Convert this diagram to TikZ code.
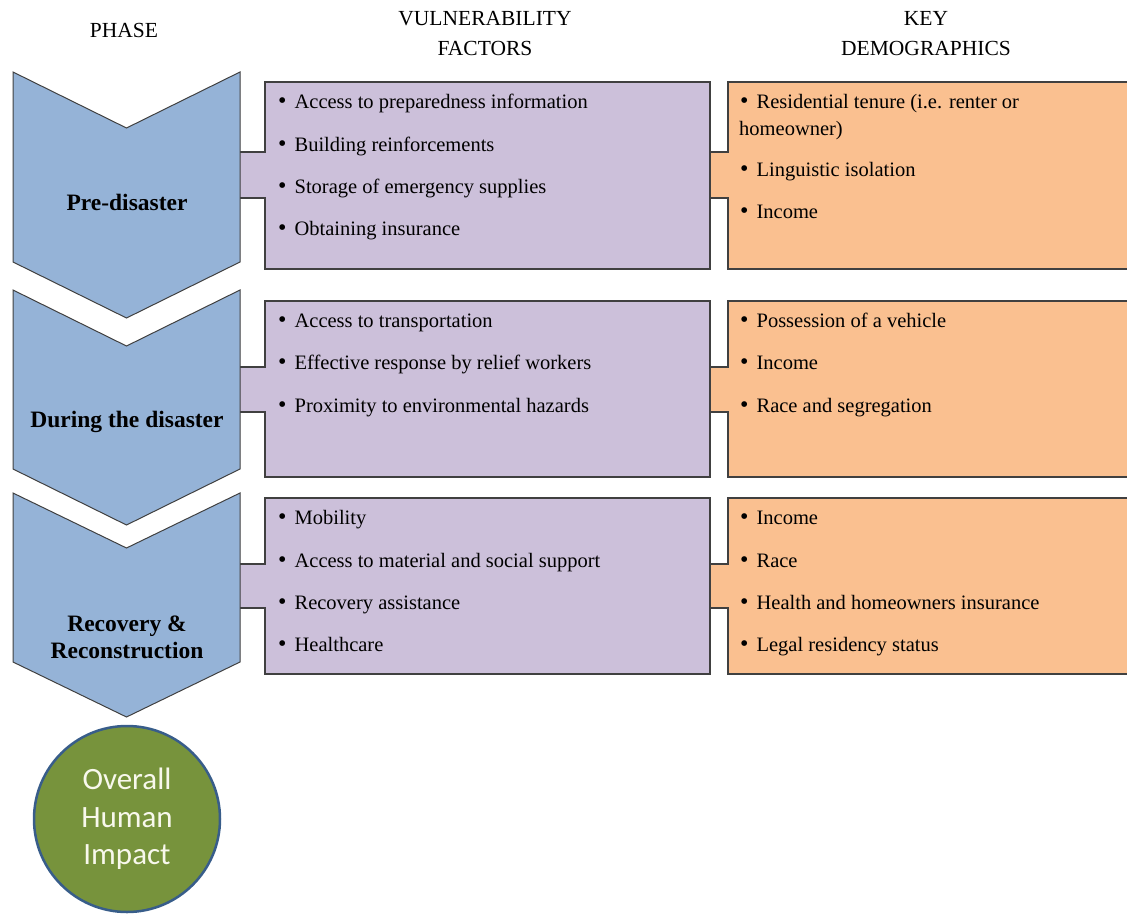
\documentclass[tikz,border=0pt]{standalone}
\usepackage{fontspec}
\setmainfont{Liberation Serif}
\newfontfamily\calibrifont{Carlito}
\usepackage{tikz}
\usetikzlibrary{positioning,shapes.geometric}
\definecolor{chevblue}{RGB}{149,179,215}
\definecolor{linegray}{RGB}{64,64,64}
\definecolor{vfpurple}{RGB}{204,192,218}
\definecolor{kdorange}{RGB}{250,192,144}
\definecolor{impactgreen}{RGB}{119,147,60}
\definecolor{impactrim}{RGB}{56,93,138}
\definecolor{impacttext}{RGB}{248,248,236}
\newcommand{\bul}{\raisebox{-0.6pt}{\fontsize{24}{27}\selectfont\textbullet}\hspace{8pt}}

\begin{document}
\begin{tikzpicture}[
    x=1pt, y=-1pt,
    chevron/.style={draw=linegray, fill=chevblue, line width=1pt},
    vfbox/.style={draw=linegray, fill=vfpurple, line width=1.2pt},
    kdbox/.style={draw=linegray, fill=kdorange, line width=1.2pt},
    head/.style={align=center, inner sep=0pt, font=\fontsize{21.5}{30}\selectfont},
    phase/.style={align=center, inner sep=0pt, font=\bfseries\fontsize{23.5}{27}\selectfont},
    item/.style={anchor=base west, inner sep=0pt, font=\fontsize{20.5}{27}\selectfont},
    impact/.style={circle, draw=impactrim, fill=impactgreen, line width=2.5pt,
        minimum size=186pt, inner sep=0pt, align=center, text=impacttext,
        font=\calibrifont\fontsize{31}{37.5}\selectfont}
]
\useasboundingbox (0,0) rectangle (1127,913);
\clip (0,0) rectangle (1127,913);

% Headers
\node[head, anchor=base] (hphase) at (124,37.7) {PHASE};
\node[head] (hvf) at (485,33.2) {VULNERABILITY\\FACTORS};
\node[head] (hkd) at (926,33.2) {KEY\\DEMOGRAPHICS};

% Key demographics boxes
\filldraw[kdbox] (709,152) -- (728,152) -- (728,82) -- (1140,82) -- (1140,269) -- (728,269) -- (728,198) -- (709,198);
\filldraw[kdbox] (709,367) -- (728,367) -- (728,301) -- (1140,301) -- (1140,477) -- (728,477) -- (728,412) -- (709,412);
\filldraw[kdbox] (709,564) -- (728,564) -- (728,498) -- (1140,498) -- (1140,674) -- (728,674) -- (728,608) -- (709,608);

% Vulnerability factor boxes
\filldraw[vfbox] (239,152) -- (265,152) -- (265,82) -- (710,82) -- (710,269) -- (265,269) -- (265,198) -- (239,198);
\filldraw[vfbox] (239,367) -- (265,367) -- (265,301) -- (710,301) -- (710,477) -- (265,477) -- (265,412) -- (239,412);
\filldraw[vfbox] (239,564) -- (265,564) -- (265,498) -- (710,498) -- (710,674) -- (265,674) -- (265,608) -- (239,608);

% Phase chevrons
\draw[chevron] (13,72) -- (126.5,128) -- (240,72) -- (240,262) -- (126.5,318) -- (13,262) -- cycle;
\draw[chevron] (13,290) -- (126.5,346) -- (240,290) -- (240,469) -- (126.5,525) -- (13,469) -- cycle;
\draw[chevron] (13,493) -- (126.5,548) -- (240,493) -- (240,662) -- (126.5,717) -- (13,662) -- cycle;

\node[phase, anchor=base] (pre) at (127,210) {Pre-disaster};
\node[phase, anchor=base] (during) at (127,427) {During the disaster};
\node[phase] (recovery) at (127,637.5) {Recovery \&\\Reconstruction};

% Pre-disaster
\node[item] (vfa1) at (278,108) {\bul Access to preparedness information};
\node[item] (vfa2) at (278,151) {\bul Building reinforcements};
\node[item] (vfa3) at (278,193) {\bul Storage of emergency supplies};
\node[item] (vfa4) at (278,235) {\bul Obtaining insurance};
\node[item] (kda1) at (740,108) {\bul Residential tenure (i.e. renter or};
\node[item] (kda1b) at (739,135) {homeowner)};
\node[item] (kda2) at (740,176) {\bul Linguistic isolation};
\node[item] (kda3) at (740,218) {\bul Income};

% During the disaster
\node[item] (vfb1) at (278,327) {\bul Access to transportation};
\node[item] (vfb2) at (278,369) {\bul Effective response by relief workers};
\node[item] (vfb3) at (278,412) {\bul Proximity to environmental hazards};
\node[item] (kdb1) at (740,327) {\bul Possession of a vehicle};
\node[item] (kdb2) at (740,369) {\bul Income};
\node[item] (kdb3) at (740,412) {\bul Race and segregation};

% Recovery
\node[item] (vfc1) at (278,524) {\bul Mobility};
\node[item] (vfc2) at (278,567) {\bul Access to material and social support};
\node[item] (vfc3) at (278,609) {\bul Recovery assistance};
\node[item] (vfc4) at (278,651) {\bul Healthcare};
\node[item] (kdc1) at (740,524) {\bul Income};
\node[item] (kdc2) at (740,567) {\bul Race};
\node[item] (kdc3) at (740,609) {\bul Health and homeowners insurance};
\node[item] (kdc4) at (740,651) {\bul Legal residency status};

% Outcome
\node[impact] (impact) at (127,819) {Overall\\Human\\Impact};

\end{tikzpicture}
\end{document}
